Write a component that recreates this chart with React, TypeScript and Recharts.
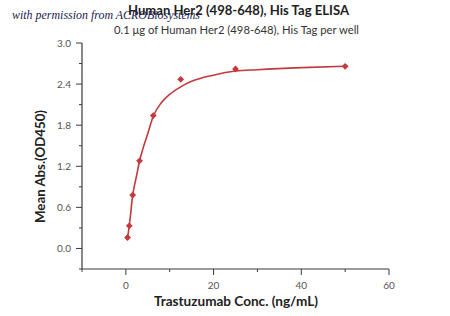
import { ComposedChart, Line, Scatter, XAxis, YAxis } from "recharts";

// measured ELISA points (Trastuzumab ng/mL vs OD450)
const conc = [0.39, 0.78, 1.56, 3.125, 6.25, 12.5, 25, 50];
const od450 = [0.16, 0.33, 0.78, 1.28, 1.94, 2.47, 2.62, 2.66];

// fitted curve
const fitConc = [0.3, 0.39, 0.78, 1, 1.56, 2, 2.5, 3.125, 4, 5, 6.25, 8, 10, 12.5, 15, 20, 25, 30, 40, 50];
const fitOd = [0.12, 0.16, 0.33, 0.45, 0.78, 0.93, 1.08, 1.28, 1.48, 1.68, 1.93, 2.12, 2.25, 2.36, 2.44, 2.53, 2.59, 2.61, 2.64, 2.66];

const xMajor = [0, 20, 40, 60];
const xMinor = [-10, 10, 30, 50];
const yMajor = [0, 0.6, 1.2, 1.8, 2.4, 3.0];
const yMinor = [-0.3, 0.3, 0.9, 1.5, 2.1, 2.7];

const TITLE = "Human Her2 (498-648), His Tag ELISA";
const SUBTITLE = "0.1 μg of Human Her2 (498-648), His Tag per well";
const X_TITLE = "Trastuzumab Conc. (ng/mL)";
const Y_TITLE = "Mean Abs.(OD450)";
const WATERMARK = "with permission from ACROBiosystems";

const RED = "#c23a3e";
const AXIS = "#3a3a3a";
const FONT = "Lato, 'Open Sans', sans-serif";

const points = conc.map((x, i) => ({ x, y: od450[i] }));
const curve = fitConc.map((x, i) => ({ x, y: fitOd[i] }));
const xTicks = [...xMajor, ...xMinor].sort((a, b) => a - b);
const yTicks = [...yMajor, ...yMinor].sort((a, b) => a - b);

const isIn = (arr: number[], v: number) => arr.some(a => Math.abs(a - v) < 1e-6);

function XTick({ x, y, payload }: any) {
    const major = isIn(xMajor, payload.value);
    return (
        <g>
            <line x1={x} x2={x} y1={y} y2={y + (major ? 6 : 3)} stroke={AXIS} strokeWidth={1} />
            {major && (
                <text x={x} y={y + 20} textAnchor="middle" fontSize={10} fill="#555" fontFamily={FONT}>
                    {payload.value}
                </text>
            )}
        </g>
    );
}

function YTick({ x, y, payload }: any) {
    const major = isIn(yMajor, payload.value);
    return (
        <g>
            <line x1={x} x2={x - (major ? 6 : 3)} y1={y} y2={y} stroke={AXIS} strokeWidth={1} />
            {major && (
                <text x={x - 11} y={y + 3.5} textAnchor="end" fontSize={10} fill="#555" fontFamily={FONT}>
                    {payload.value.toFixed(1)}
                </text>
            )}
        </g>
    );
}

function Diamond({ cx, cy }: any) {
    const r = 3.4;
    return <path d={`M${cx},${cy - r}L${cx + r},${cy}L${cx},${cy + r}L${cx - r},${cy}Z`} fill={RED} />;
}

export default function App() {
    return (
        <div style={{ position: "absolute", left: 0, top: 0, width: 450, height: 316, background: "#fff" }}>
            <ComposedChart width={450} height={316} margin={{ top: 43, right: 61, bottom: 0, left: 0 }}>
                <XAxis
                    dataKey="x"
                    type="number"
                    domain={[-10, 60]}
                    ticks={xTicks}
                    interval={0}
                    tickSize={0}
                    tickMargin={0}
                    tickLine={false}
                    height={47}
                    axisLine={{ stroke: AXIS, strokeWidth: 1.2 }}
                    tick={<XTick />}
                    allowDataOverflow
                />
                <YAxis
                    dataKey="y"
                    type="number"
                    domain={[-0.3, 3.0]}
                    ticks={yTicks}
                    interval={0}
                    tickSize={0}
                    tickMargin={0}
                    tickLine={false}
                    width={82}
                    axisLine={{ stroke: AXIS, strokeWidth: 1.2 }}
                    tick={<YTick />}
                    allowDataOverflow
                />
                <Line
                    data={curve}
                    dataKey="y"
                    type="monotone"
                    stroke={RED}
                    strokeWidth={1.6}
                    dot={false}
                    activeDot={false}
                    isAnimationActive={false}
                />
                <Scatter data={points} dataKey="y" shape={<Diamond />} isAnimationActive={false} />
            </ComposedChart>
            <svg width={450} height={316} style={{ position: "absolute", left: 0, top: 0, pointerEvents: "none" }}>
                <text x={238.5} y={15} textAnchor="middle" fontSize={14} fontWeight="bold" fill="#222" fontFamily={FONT}
                    textLength={221} lengthAdjust="spacingAndGlyphs">{TITLE}</text>
                <text x={236.5} y={33.5} textAnchor="middle" fontSize={11} fill="#333" fontFamily={FONT}
                    textLength={245} lengthAdjust="spacingAndGlyphs">{SUBTITLE}</text>
                <text x={12} y={19} fontSize={12} fontStyle="italic" fill="#1c1c50" fontFamily="'Liberation Serif', serif"
                    textLength={188} lengthAdjust="spacingAndGlyphs">{WATERMARK}</text>
                <text x={236} y={306} textAnchor="middle" fontSize={13} fontWeight="bold" fill="#222" fontFamily={FONT}
                    textLength={164} lengthAdjust="spacingAndGlyphs">{X_TITLE}</text>
                <text x={0} y={0} transform="translate(45,166.5) rotate(-90)" textAnchor="middle" fontSize={13} fontWeight="bold"
                    fill="#222" fontFamily={FONT} textLength={113} lengthAdjust="spacingAndGlyphs">{Y_TITLE}</text>
            </svg>
        </div>
    );
}
